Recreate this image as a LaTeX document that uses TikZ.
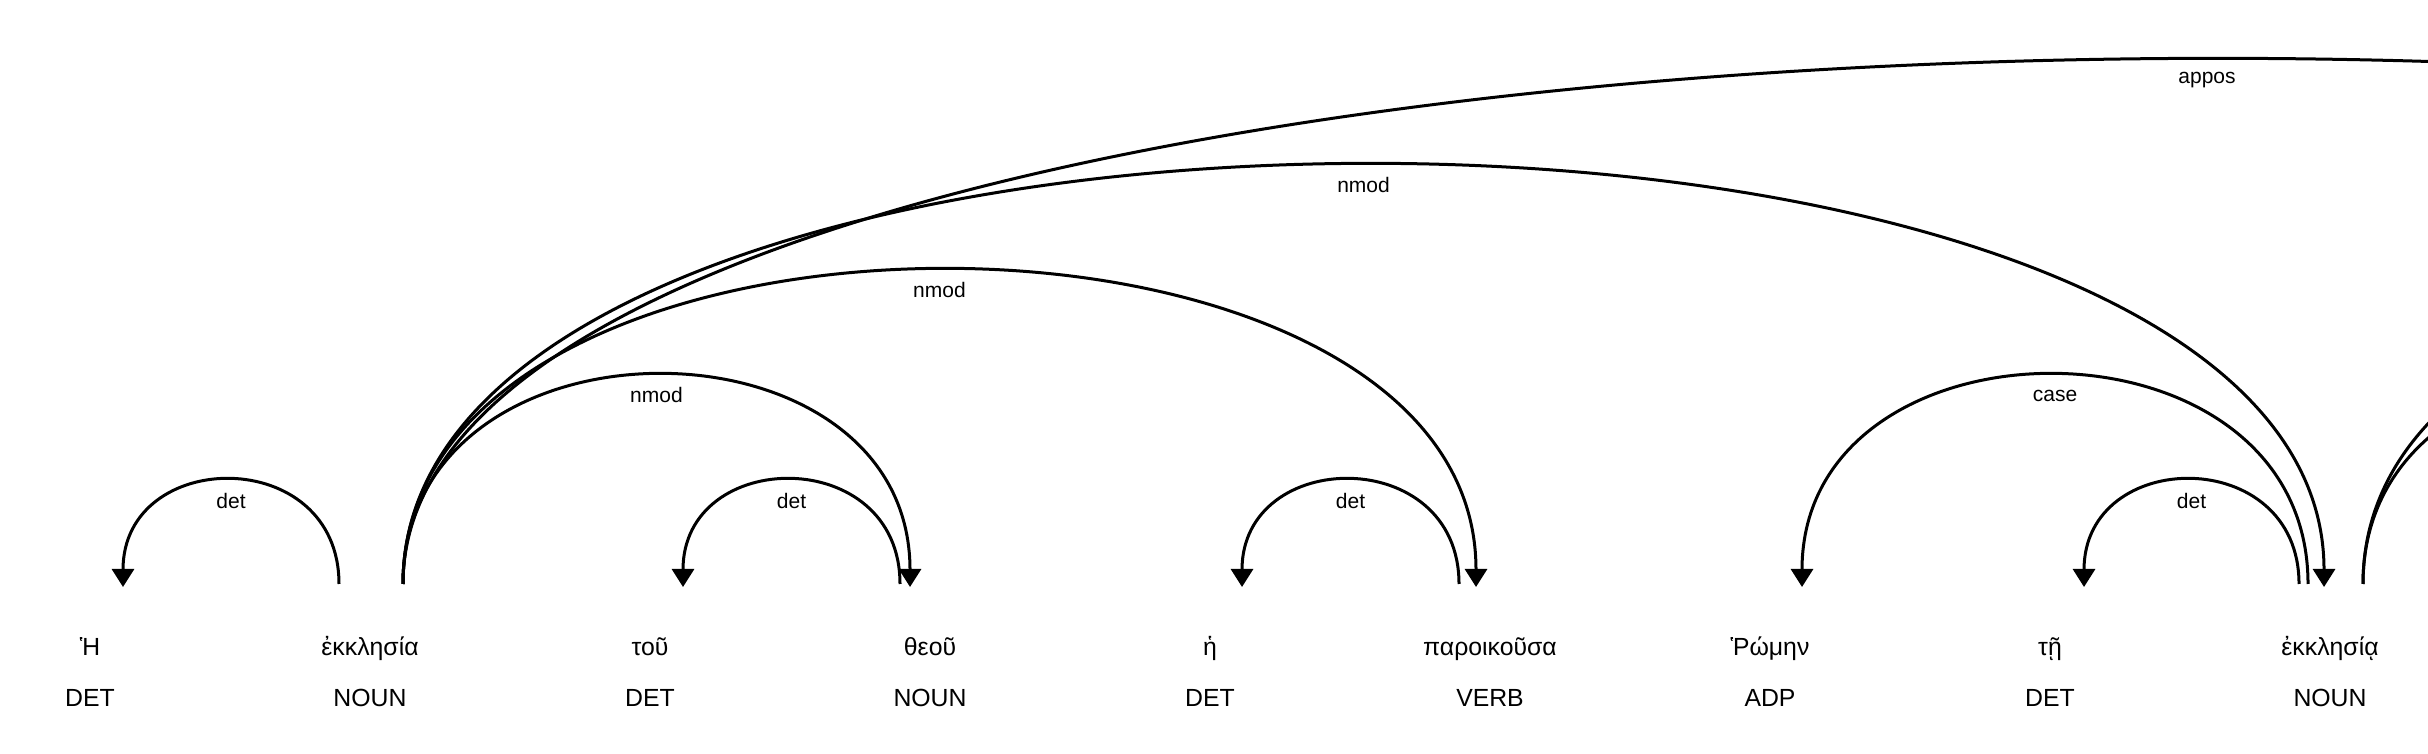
\documentclass[tikz,border=0pt]{standalone}
\usepackage{fontspec}
\setmainfont{Liberation Sans}
\usetikzlibrary{arrows.meta,calc}

\tikzset{
  word/.style={anchor=base, inner sep=0pt, font=\fontsize{12.4}{14}\selectfont},
  postag/.style={anchor=base, inner sep=0pt, font=\fontsize{12.4}{14}\selectfont},
  deprel/.style={inner sep=0pt, font=\fontsize{10.5}{12}\selectfont, pos=0.5, yshift=-10pt},
  deparc/.style={line width=1.5pt, line cap=butt},
  depto/.style={deparc, -{Triangle[width=11pt,length=9pt]}}
}

\begin{document}
\begin{tikzpicture}[x=0.5pt,y=0.5pt]
\useasboundingbox (0,0) rectangle (2428,754);
\clip (0,0) rectangle (2428,754);
% words
\node[word] (w0) at (90,98) {Ἡ};
\node[word] (w1) at (370,98) {ἐκκλησία};
\node[word] (w2) at (650,98) {τοῦ};
\node[word] (w3) at (930,98) {θεοῦ};
\node[word] (w4) at (1210,98) {ἡ};
\node[word] (w5) at (1490,98) {παροικοῦσα};
\node[word] (w6) at (1770,98) {Ῥώμην};
\node[word] (w7) at (2050,98) {τῇ};
\node[word] (w8) at (2330,98) {ἐκκλησίᾳ};
% tags
\node[postag] (t0) at (90,47) {DET};
\node[postag] (t1) at (370,47) {NOUN};
\node[postag] (t2) at (650,47) {DET};
\node[postag] (t3) at (930,47) {NOUN};
\node[postag] (t4) at (1210,47) {DET};
\node[postag] (t5) at (1490,47) {VERB};
\node[postag] (t6) at (1770,47) {ADP};
\node[postag] (t7) at (2050,47) {DET};
\node[postag] (t8) at (2330,47) {NOUN};
% arc ends
\coordinate (w1l) at ($(w1.base)+(-31,72)$);
\coordinate (w1r) at ($(w1.base)+(33,72)$);
\coordinate (w3l) at ($(w3.base)+(-30,72)$);
\coordinate (w5l) at ($(w5.base)+(-31,72)$);
\coordinate (w8l) at ($(w8.base)+(-31,72)$);
\coordinate (w8m) at ($(w8.base)+(-22,72)$);
\coordinate (w8r) at ($(w8.base)+(33,72)$);
\coordinate (w0in) at ($(w0.base)+(33,69)$);
\coordinate (w2in) at ($(w2.base)+(33,69)$);
\coordinate (w3in) at ($(w3.base)+(-20,69)$);
\coordinate (w4in) at ($(w4.base)+(32,69)$);
\coordinate (w5in) at ($(w5.base)+(-14,69)$);
\coordinate (w6in) at ($(w6.base)+(32,69)$);
\coordinate (w7in) at ($(w7.base)+(34,69)$);
\coordinate (w8in) at ($(w8.base)+(-6,69)$);
\coordinate (w10in) at (2870,167);
\coordinate (w12in) at (3436,167);
\coordinate (w14in) at (4011,167);
% arcs
\draw[depto] (w1l) .. controls +(0,140) and +(0,140) .. (w0in) node[deprel] {det};
\draw[depto] (w1r) .. controls +(0,280) and +(0,280) .. (w3in) node[deprel] {nmod};
\draw[depto] (w3l) .. controls +(0,140) and +(0,140) .. (w2in) node[deprel] {det};
\draw[depto] (w1r) .. controls +(0,420) and +(0,420) .. (w5in) node[deprel] {nmod};
\draw[depto] (w5l) .. controls +(0,140) and +(0,140) .. (w4in) node[deprel] {det};
\draw[depto] (w1r) .. controls +(0,560) and +(0,560) .. (w8in) node[deprel] {nmod};
\draw[depto] (w1r) .. controls +(0,700) and +(0,700) .. (w14in) node[deprel] {appos};
\draw[depto] (w8m) .. controls +(0,280) and +(0,280) .. (w6in) node[deprel] {case};
\draw[depto] (w8l) .. controls +(0,140) and +(0,140) .. (w7in) node[deprel] {det};
\draw[depto] (w8r) .. controls +(0,280) and +(0,280) .. (w10in);
\draw[depto] (w8r) .. controls +(0,420) and +(0,420) .. (w12in);
\end{tikzpicture}
\end{document}
